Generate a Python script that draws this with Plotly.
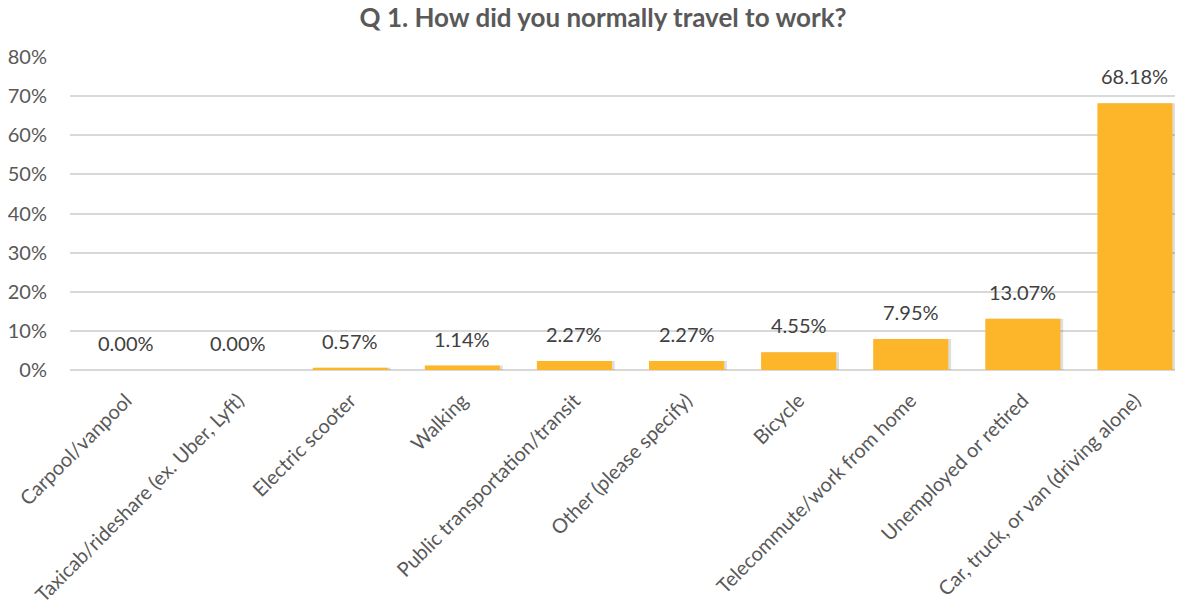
import plotly.graph_objects as go

categories = ["Carpool/vanpool", "Taxicab/rideshare (ex. Uber, Lyft)", "Electric scooter",
              "Walking", "Public transportation/transit", "Other (please specify)",
              "Bicycle", "Telecommute/work from home", "Unemployed or retired",
              "Car, truck, or van (driving alone)"]
values = [0.0, 0.0, 0.0057, 0.0114, 0.0227, 0.0227, 0.0455, 0.0795, 0.1307, 0.6818]
labels = ["0.00%", "0.00%", "0.57%", "1.14%", "2.27%", "2.27%", "4.55%", "7.95%", "13.07%", "68.18%"]
y_ticks = [0, 0.1, 0.2, 0.3, 0.4, 0.5, 0.6, 0.7, 0.8]
y_tick_text = ["0%", "10%", "20%", "30%", "40%", "50%", "60%", "70%", "80%"]

FONT = "Lato, Source Sans Pro, Noto Sans, sans-serif"

fig = go.Figure()
# soft shadow behind bars
fig.add_trace(go.Bar(
    x=categories, y=values, width=0.67, offset=-0.31,
    marker=dict(color="rgba(0,0,0,0.13)", line=dict(width=0)),
    hoverinfo="skip", showlegend=False,
))
fig.add_trace(go.Bar(
    x=categories, y=values, width=0.67, offset=-0.335,
    marker=dict(color="#FDB52A", line=dict(width=0)),
    showlegend=False,
))
for c, v, t in zip(categories, values, labels):
    fig.add_annotation(x=c, y=v, text=t, showarrow=False, yanchor="bottom",
                       yshift=13, font=dict(family=FONT, size=20, color="#404040"))

fig.update_layout(
    barmode="overlay",
    width=1183, height=600,
    margin=dict(l=62, r=0, t=49, b=238, autoexpand=False),
    paper_bgcolor="white", plot_bgcolor="white",
    title=dict(text="<b>Q 1. How did you normally travel to work?</b>", x=0.503, xanchor="center",
               xref="container", y=0.998, yanchor="top", pad=dict(t=0, b=0),
               font=dict(family=FONT, size=26, color="#595959")),
    font=dict(family=FONT, size=20, color="#595959"),
    xaxis=dict(tickangle=-45, showgrid=False, showline=False, ticks="", automargin=False,
               ticklabelstandoff=14,
               tickfont=dict(family=FONT, size=20, color="#595959")),
    yaxis=dict(range=[0, 0.8], tickvals=y_ticks, ticktext=y_tick_text, automargin=False,
               showgrid=True, gridcolor="#D9D9D9", gridwidth=2, zeroline=True,
               zerolinecolor="#D9D9D9", zerolinewidth=2, ticks="", ticklabelstandoff=22,
               tickfont=dict(family=FONT, size=20, color="#595959")),
)
fig.write_html("out.html")
